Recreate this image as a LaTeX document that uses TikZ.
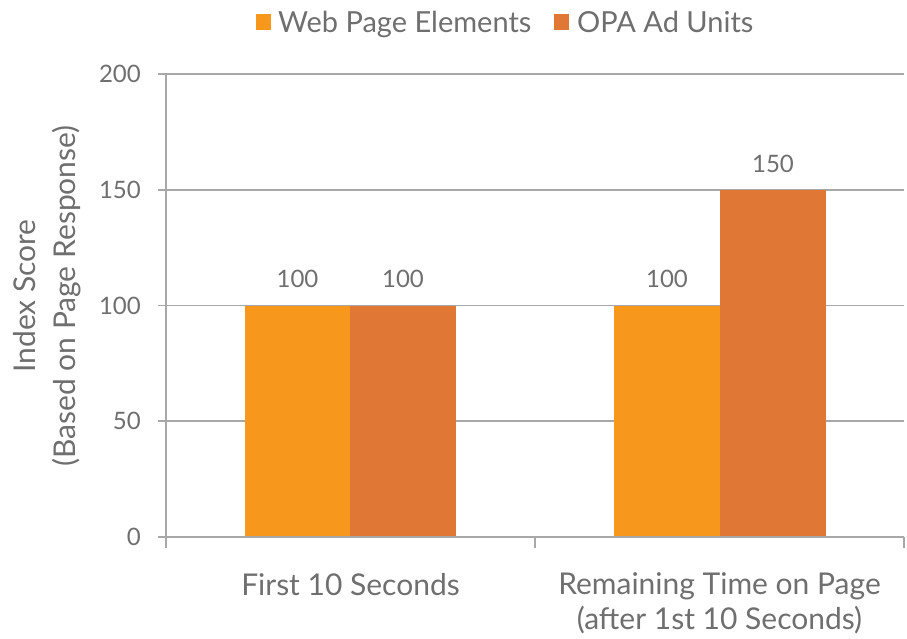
\documentclass[tikz,border=0pt]{standalone}
\usepackage{fontspec}
\setmainfont{Lato}
\definecolor{webpg}{HTML}{F7981D}
\definecolor{opa}{HTML}{E17734}
\definecolor{txt}{HTML}{6F6F6F}
\definecolor{gridc}{HTML}{A8A8A8}
\tikzset{
  gridline/.style={draw=gridc, line width=1.6pt},
  axisline/.style={draw=gridc, line width=1.6pt},
  ticklabel/.style={text=txt, font=\fontsize{24}{28}\selectfont, inner sep=0pt},
  vallabel/.style={text=txt, font=\fontsize{24}{28}\selectfont, inner sep=0pt},
  catlabel/.style={text=txt, font=\fontsize{30}{35}\selectfont, inner sep=0pt, align=center},
  legtext/.style={text=txt, font=\fontsize{29}{32}\selectfont, inner sep=0pt, anchor=base west},
  barweb/.style={fill=webpg, draw=none},
  baropa/.style={fill=opa, draw=none},
}
\begin{document}
\begin{tikzpicture}[x=1pt, y=-1pt]
  \useasboundingbox (0,0) rectangle (907,639);

  % horizontal gridlines (value 0..200 mapped to y 537..74)
  \foreach \v/\yy in {50/421.25, 100/305.5, 150/189.75, 200/74} {
    \draw[gridline] (158,\yy) -- (904,\yy);
  }
  % y tick labels
  \foreach \v/\yy in {0/537, 50/421.25, 100/305.5, 150/189.75, 200/74} {
    \node[ticklabel, anchor=east] (yt\v) at (141,\yy) {\v};
  }

  % bars
  \fill[barweb] (245,537) rectangle (350,305.5);
  \fill[baropa] (350,537) rectangle (456,305.5);
  \fill[barweb] (614,537) rectangle (720,305.5);
  \fill[baropa] (720,537) rectangle (826,189.75);

  % axes
  \draw[axisline] (158,537) -- (904,537);
  \draw[axisline] (166,74) -- (166,548);
  \draw[axisline] (535,537) -- (535,548);
  \draw[axisline] (904,537) -- (904,548);

  % value labels
  \node[vallabel] (v1) at (297.5,279) {100};
  \node[vallabel] (v2) at (403,279) {100};
  \node[vallabel] (v3) at (667,279) {100};
  \node[vallabel] (v4) at (773,164) {150};

  % category labels
  \node[catlabel] (c1) at (350.5,585) {First 10 Seconds};
  \node[catlabel] (c2) at (719.5,603) {Remaining Time on Page\\(after 1st 10 Seconds)};

  % y axis title
  \node[catlabel, rotate=90, font=\fontsize{30}{40}\selectfont] (ytitle) at (47,296)
    {Index Score\\(Based on Page Response)};

  % legend
  \fill[webpg] (256,14) rectangle (271,30);
  \node[legtext] (l1) at (278,33) {Web Page Elements};
  \fill[opa] (554,14) rectangle (569,30);
  \node[legtext] (l2) at (577,33) {OPA Ad Units};
\end{tikzpicture}
\end{document}
